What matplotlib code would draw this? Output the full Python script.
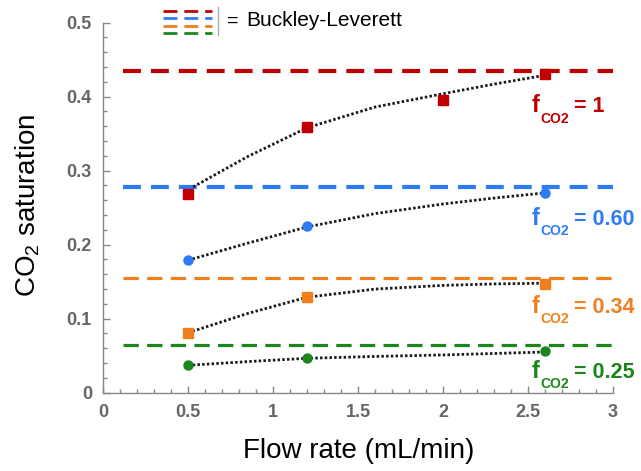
import numpy as np
import matplotlib.pyplot as plt

plt.rcParams['font.family'] = ['Liberation Sans', 'DejaVu Sans']
plt.rcParams['mathtext.fontset'] = 'custom'
plt.rcParams['mathtext.rm'] = 'Liberation Sans'
plt.rcParams['mathtext.bf'] = 'Liberation Sans:bold'

# measured saturation vs flow rate
flow = [0.5, 1.2, 2.0, 2.6]
sat_f100 = [0.269, 0.359, 0.395, 0.431]
flow_low = [0.5, 1.2, 2.6]
sat_f060 = [0.179, 0.225, 0.270]
sat_f034 = [0.081, 0.129, 0.147]
sat_f025 = [0.037, 0.047, 0.056]
err_last = [0.006, 0.004, 0.004, 0.003]   # f=1, 0.60, 0.34, 0.25 at 2.6 mL/min

# dotted trend curves
trend_x = [0.53, 0.85, 1.2, 1.6, 2.0, 2.3, 2.6]
trend_f100 = [0.278, 0.319, 0.358, 0.386, 0.404, 0.417, 0.429]
trend_x2 = [0.5, 0.85, 1.2, 1.6, 2.0, 2.3, 2.6]
trend_f060 = [0.179, 0.202, 0.224, 0.242, 0.255, 0.263, 0.270]
trend_f034 = [0.081, 0.107, 0.129, 0.140, 0.145, 0.147, 0.148]
trend_f025 = [0.037, 0.042, 0.0465, 0.049, 0.051, 0.053, 0.055]

# Buckley-Leverett saturations
bl = [0.435, 0.278, 0.155, 0.065]
bl_x = [0.12, 3.0]

labels = ['= 1', '= 0.60', '= 0.34', '= 0.25']
label_y = [0.379, 0.227, 0.108, 0.020]
colors = ['#C00000', '#2E7BF6', '#F07F1E', '#1C861C']

fig = plt.figure(figsize=(6.41, 4.71), dpi=100)
ax = fig.add_axes([103/641, 1-392.7/471, 510/641, 370/471])

lw_bl = [3.0, 3.0, 2.3, 2.3]
for b, c, w in zip(bl, colors, lw_bl):
    ax.plot(bl_x, [b, b], color=c, lw=w, dashes=(4.3, 2.4) if w > 2.5 else (4.8, 2.6),
            zorder=2)

trends = [(trend_x, trend_f100), (trend_x2, trend_f060),
          (trend_x2, trend_f034), (trend_x2, trend_f025)]
for tx, ty in trends:
    ax.plot(tx, ty, color='#1a1a1a', lw=2.0, linestyle=(0, (0.9, 0.8)), zorder=3)

ax.plot(flow, sat_f100, 's', color=colors[0], ms=7.5, zorder=4)
ax.plot(flow_low, sat_f060, 'o', color=colors[1], ms=6.5, zorder=4)
ax.plot(flow_low, sat_f034, 's', color=colors[2], ms=7.5, zorder=4)
ax.plot(flow_low, sat_f025, 'o', color=colors[3], ms=6.5, zorder=4)
ax.errorbar([flow[-1]] * 4, [sat_f100[-1], sat_f060[-1], sat_f034[-1], sat_f025[-1]],
            yerr=err_last, fmt='none', ecolor='#999999', elinewidth=1, capsize=3, zorder=3)

for lab, y, c in zip(labels, label_y, colors):
    ax.text(2.52, y, 'f', color=c, fontsize=17, fontweight='bold',
            ha='left', va='baseline')
    ax.annotate('CO2', (2.52, y), xytext=(6.5, -7.5), textcoords='offset points',
                color=c, fontsize=10, fontweight='bold', ha='left', va='baseline')
    ax.annotate(lab, (2.52, y), xytext=(30.5, 0), textcoords='offset points',
                color=c, fontsize=15.5, fontweight='bold', ha='left', va='baseline')

ax.set_xlim(0, 3)
ax.set_ylim(0, 0.5)
ax.set_xticks([0, 0.5, 1, 1.5, 2, 2.5, 3])
ax.set_xticklabels(['0', '0.5', '1', '1.5', '2', '2.5', '3'])
ax.set_yticks([0, 0.1, 0.2, 0.3, 0.4, 0.5])
ax.set_yticklabels(['0', '0.1', '0.2', '0.3', '0.4', '0.5'])
ax.set_xticks(np.arange(0, 3.01, 0.1), minor=True)
ax.set_yticks(np.arange(0, 0.501, 0.02), minor=True)
ax.tick_params(which='both', direction='in', color='#888888', width=1)
ax.tick_params(which='major', length=5, labelsize=13, labelcolor='#666666', pad=8)
ax.tick_params(which='minor', length=3)
for t in ax.get_xticklabels() + ax.get_yticklabels():
    t.set_fontweight('bold')
for s in ['top', 'right']:
    ax.spines[s].set_visible(False)
for s in ['left', 'bottom']:
    ax.spines[s].set_color('#888888')
    ax.spines[s].set_linewidth(1)

fig.text(359/641, 1-451/471, 'Flow rate (mL/min)', fontsize=20, ha='center', va='center')
fig.text(28/641, 1-205/471, r'CO$_2$ saturation', fontsize=20, rotation=90,
         ha='center', va='center')

# legend glyph for Buckley-Leverett lines
lg = fig.add_axes([0, 0, 1, 1], facecolor='none')
lg.set_xlim(0, 641)
lg.set_ylim(471, 0)
lg.axis('off')
for yy, c in zip([11, 18, 26, 33], colors):
    lg.plot([163, 212], [yy, yy], color=c, lw=2.0, dashes=(5, 2.5))
lg.plot([218, 218], [7, 35], color='#AAAAAA', lw=1)
lg.text(227, 21, '=', fontsize=14, ha='left', va='center')
lg.text(246, 21, 'Buckley-Leverett', fontsize=15, ha='left', va='center')

fig.savefig('out.png', dpi=100)
